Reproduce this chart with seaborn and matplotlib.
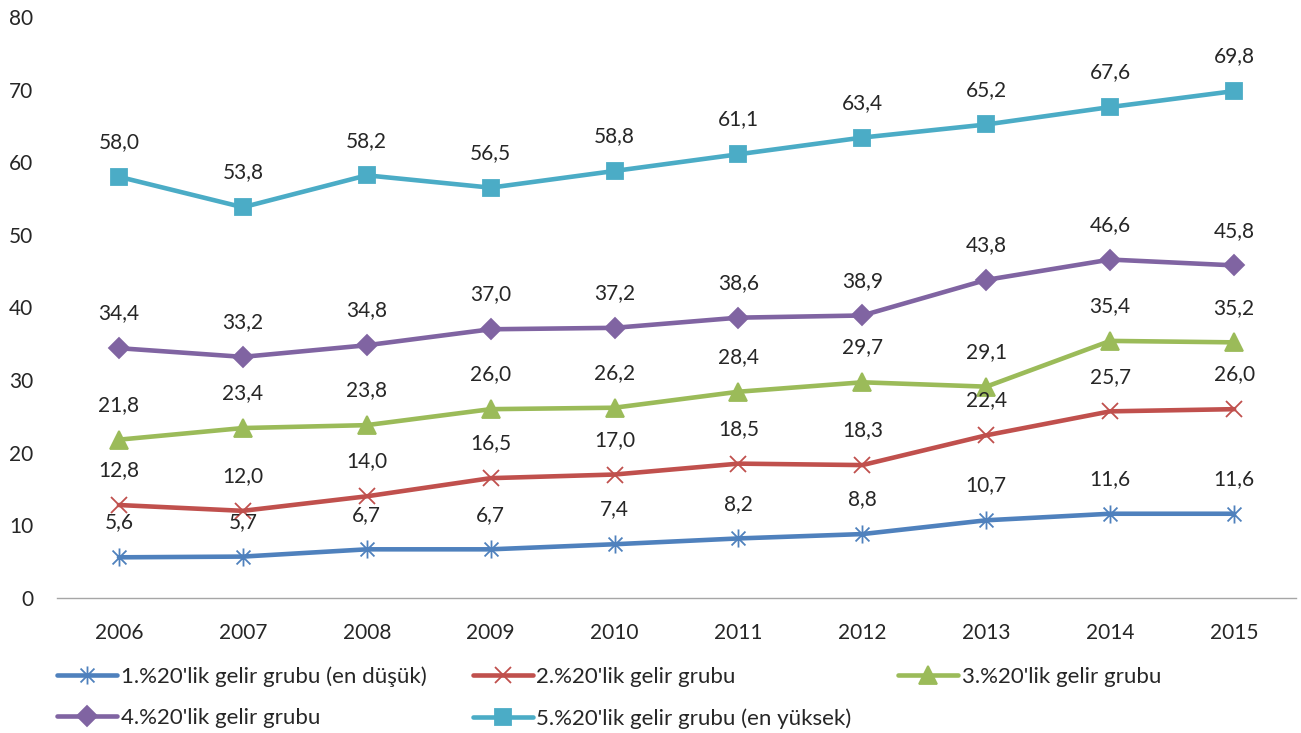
import matplotlib
matplotlib.use("Agg")
import matplotlib.pyplot as plt
import seaborn as sns
import pandas as pd
from matplotlib.path import Path

years = [2006, 2007, 2008, 2009, 2010, 2011, 2012, 2013, 2014, 2015]
grup1 = [5.6, 5.7, 6.7, 6.7, 7.4, 8.2, 8.8, 10.7, 11.6, 11.6]
grup2 = [12.8, 12.0, 14.0, 16.5, 17.0, 18.5, 18.3, 22.4, 25.7, 26.0]
grup3 = [21.8, 23.4, 23.8, 26.0, 26.2, 28.4, 29.7, 29.1, 35.4, 35.2]
grup4 = [34.4, 33.2, 34.8, 37.0, 37.2, 38.6, 38.9, 43.8, 46.6, 45.8]
grup5 = [58.0, 53.8, 58.2, 56.5, 58.8, 61.1, 63.4, 65.2, 67.6, 69.8]
names = ["1.%20'lik gelir grubu (en düşük)", "2.%20'lik gelir grubu",
         "3.%20'lik gelir grubu", "4.%20'lik gelir grubu",
         "5.%20'lik gelir grubu (en yüksek)"]
colors = ["#4F81BD", "#C0504D", "#9BBB59", "#8064A2", "#4BACC6"]

sns.set_style("white")
plt.rcParams['font.family'] = ['Lato', 'DejaVu Sans']

# excel tarzi yildiz isaretci
star = Path([(-1, -1), (1, 1), (-1, 1), (1, -1), (0, -1.3), (0, 1.3)],
            [Path.MOVETO, Path.LINETO, Path.MOVETO, Path.LINETO, Path.MOVETO, Path.LINETO])
markers = [star, "x", "^", "D", "s"]
msizes = [13, 12, 13, 10, 12]

fig = plt.figure(figsize=(13.01, 7.33), dpi=100)
ax = fig.add_axes([0.0438, 0.1842, 0.9524, 0.7926])

handles = []
for vals, name, c, m, ms in zip([grup1, grup2, grup3, grup4, grup5], names, colors, markers, msizes):
    df = pd.DataFrame({"yil": years, "deger": vals})
    sns.lineplot(data=df, x="yil", y="deger", color=c, linewidth=3.3, ax=ax,
                 marker=m, markersize=ms, markeredgecolor=c, markerfacecolor=c,
                 markeredgewidth=1.3, errorbar=None)
    handles.append(ax.lines[-1])
    for x, y in zip(years, vals):
        ax.annotate(f"{y:.1f}".replace(".", ","), (x, y), xytext=(0, 25),
                    textcoords="offset points", ha="center", va="center", fontsize=15)

ax.set_xlim(2005.5, 2015.5)
ax.set_ylim(0, 80)
ax.set_xticks(years)
ax.set_yticks(range(0, 81, 10))
ax.set_xlabel("")
ax.set_ylabel("")
ax.tick_params(axis="both", length=0, labelsize=15)
ax.tick_params(axis="x", pad=18)
ax.tick_params(axis="y", pad=17)
for s in ["top", "right", "left"]:
    ax.spines[s].set_visible(False)
ax.spines["bottom"].set_color("#A6A6A6")
ax.spines["bottom"].set_linewidth(1)
ax.grid(False)

order = [0, 3, 1, 4, 2]
fig.legend([handles[i] for i in order], [names[i] for i in order], ncol=3,
           loc="upper left", bbox_to_anchor=(0.044, 0.091), frameon=False,
           fontsize=16, handlelength=2.7, handletextpad=0.15, columnspacing=2.1,
           labelspacing=0.95, borderpad=0, borderaxespad=0)

fig.savefig("out.png", dpi=100)
